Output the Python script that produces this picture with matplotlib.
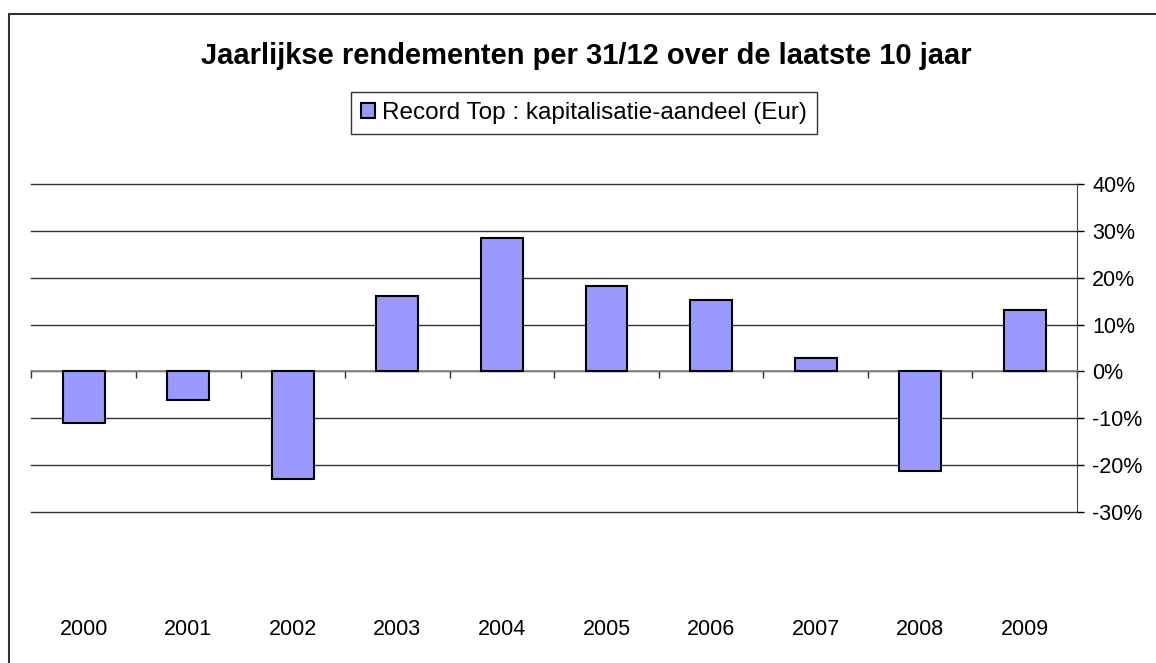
import matplotlib.pyplot as plt
from matplotlib.patches import Rectangle
from matplotlib.ticker import FuncFormatter, MultipleLocator

years = ["2000", "2001", "2002", "2003", "2004", "2005", "2006", "2007", "2008", "2009"]
returns = [-11.1, -6.0, -23.0, 16.1, 28.4, 18.2, 15.3, 2.8, -21.3, 13.1]  # percent
series_name = "Record Top : kapitalisatie-aandeel (Eur)"
title = "Jaarlijkse rendementen per 31/12 over de laatste 10 jaar"

plt.rcParams['font.family'] = ['Liberation Sans', 'DejaVu Sans']
plt.rcParams['axes.unicode_minus'] = False

fig = plt.figure(figsize=(11.56, 6.63), dpi=100)
ax = fig.add_axes([31.4 / 1156, 1 - 512 / 663, (1077 - 31.4) / 1156, (512 - 184) / 663])

x = list(range(len(years)))
ax.bar(x, returns, width=0.4, color="#9999FF", edgecolor="black", linewidth=1.5,
       label=series_name, zorder=3)

ax.set_xlim(-0.5, len(years) - 0.5)
ax.set_ylim(-30, 40)

# y axis on the right
ax.yaxis.tick_right()
ax.yaxis.set_major_locator(MultipleLocator(10))
ax.yaxis.set_major_formatter(FuncFormatter(lambda v, p: f"{int(round(v))}%"))
ax.tick_params(axis='y', which='major', direction='out', length=5, width=1, pad=6,
               labelsize=15.5, colors='black')
ax.grid(axis='y', color='#333333', linewidth=1, zorder=0)
for gl in ax.yaxis.get_gridlines():
    gl.set_clip_on(False)

for s in ['left', 'top']:
    ax.spines[s].set_visible(False)
ax.spines['right'].set_color('#444444')

# category axis on the zero line
ax.spines['bottom'].set_position(('data', 0))
ax.spines['bottom'].set_color('#888888')
ax.spines['bottom'].set_linewidth(1.2)
ax.set_xticks(x)
ax.set_xticklabels(years)
ax.set_xticks([i - 0.5 for i in range(len(years) + 1)], minor=True)
ax.tick_params(axis='x', which='major', length=0, pad=178, labelsize=15.5)
ax.tick_params(axis='x', which='minor', direction='out', length=5, width=1, color='#333333')

fig.text(586 / 1156, 1 - 56 / 663, title, ha='center', va='center',
         fontsize=21, fontweight='bold')

leg = fig.legend(loc='center', bbox_to_anchor=(584 / 1156, 1 - 113 / 663),
                 fontsize=17.5, frameon=True, fancybox=False, edgecolor='black',
                 handlelength=0.55, handleheight=0.55, handletextpad=0.3,
                 borderpad=0.42, borderaxespad=0)
leg.get_frame().set_linewidth(1)

# outer chart border
fig.add_artist(Rectangle((9 / 1156, -0.1), 1.2, 1 - 14 / 663 + 0.1,
                         transform=fig.transFigure, fill=False,
                         edgecolor='#333333', linewidth=1.5))

fig.savefig("out.png", dpi=100)
